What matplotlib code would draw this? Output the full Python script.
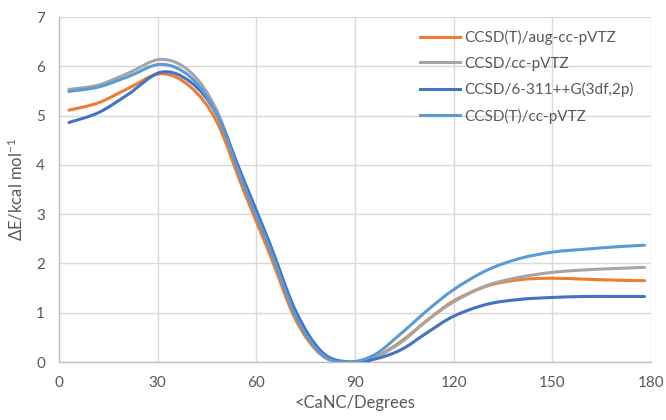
import numpy as np
import matplotlib
matplotlib.use('Agg')
from matplotlib import pyplot as plt
from matplotlib.path import Path
from matplotlib.patches import PathPatch
from matplotlib.lines import Line2D

plt.rcParams['font.family'] = ['Lato', 'DejaVu Sans']

angle = [3, 12, 21, 31, 40, 48, 56, 64, 72, 80, 88, 96, 104, 112, 120, 130, 140, 150, 160, 170, 178]

aug_t = [5.11, 5.26, 5.55, 5.85, 5.58, 4.87, 3.50, 2.20, 0.85, 0.13, 0.0, 0.10, 0.42, 0.85, 1.24, 1.54, 1.67, 1.70, 1.68, 1.66, 1.65]
ccsd_tz = [5.53, 5.62, 5.86, 6.14, 5.88, 5.10, 3.65, 2.35, 0.95, 0.15, 0.0, 0.10, 0.40, 0.85, 1.22, 1.55, 1.72, 1.82, 1.87, 1.90, 1.92]
ccsd_pople = [4.86, 5.06, 5.43, 5.88, 5.68, 5.02, 3.72, 2.42, 1.03, 0.20, 0.0, 0.06, 0.25, 0.60, 0.93, 1.17, 1.27, 1.31, 1.33, 1.33, 1.33]
ccsdt_tz = [5.49, 5.58, 5.79, 6.04, 5.78, 5.02, 3.62, 2.32, 0.93, 0.15, 0.0, 0.15, 0.58, 1.05, 1.47, 1.86, 2.10, 2.23, 2.29, 2.34, 2.37]

labels = ['CCSD(T)/aug-cc-pVTZ', 'CCSD/cc-pVTZ', 'CCSD/6-311++G(3df,2p)', 'CCSD(T)/cc-pVTZ']
colors = ['#ED7D31', '#A5A5A5', '#4472C4', '#5B9BD5']


def smooth_path(x, y):
    # catmull-rom -> bezier, like a "smoothed line" in a spreadsheet
    p = np.column_stack([x, y]).astype(float)
    ext = np.vstack([p[0], p, p[-1]])
    verts = [p[0]]
    codes = [Path.MOVETO]
    for i in range(1, len(ext) - 2):
        c1 = ext[i] + (ext[i + 1] - ext[i - 1]) / 6
        c2 = ext[i + 1] - (ext[i + 2] - ext[i]) / 6
        verts += [c1, c2, ext[i + 1]]
        codes += [Path.CURVE4] * 3
    return Path(verts, codes)


fig = plt.figure(figsize=(6.66, 4.2), dpi=100)
ax = fig.add_axes([0.0886, 0.138, 0.889, 0.8215])

handles = []
for vals, lab, col in zip([aug_t, ccsd_tz, ccsd_pople, ccsdt_tz], labels, colors):
    ax.add_patch(PathPatch(smooth_path(angle, vals), fill=False, edgecolor=col,
                           lw=2.2, capstyle='round', joinstyle='round', zorder=3))
    handles.append(Line2D([], [], color=col, lw=2.2))

ax.set_xlim(0, 180)
ax.set_ylim(0, 7)
ax.set_xticks(range(0, 181, 30))
ax.set_yticks(range(0, 8))
ax.grid(True, color='#D9D9D9', lw=1)
ax.set_axisbelow(True)
ax.tick_params(length=0, labelsize=11, labelcolor='#595959', pad=10)
for s in ['top', 'right']:
    ax.spines[s].set_visible(False)
for s in ['left', 'bottom']:
    ax.spines[s].set_color('#BFBFBF')
    ax.spines[s].set_linewidth(1)

ax.set_xlabel('<CaNC/Degrees', fontsize=12, color='#595959', labelpad=4)
ax.set_ylabel('ΔE/kcal mol$\\mathregular{^{-1}}$', fontsize=12, color='#595959', labelpad=8)

ax.legend(handles, labels, loc='upper left', bbox_to_anchor=(0.6, 0.98), frameon=False,
          fontsize=11, labelcolor='#595959', handlelength=2.6, handletextpad=0.3,
          labelspacing=0.75, borderaxespad=0)

fig.savefig('out.png', dpi=100)
